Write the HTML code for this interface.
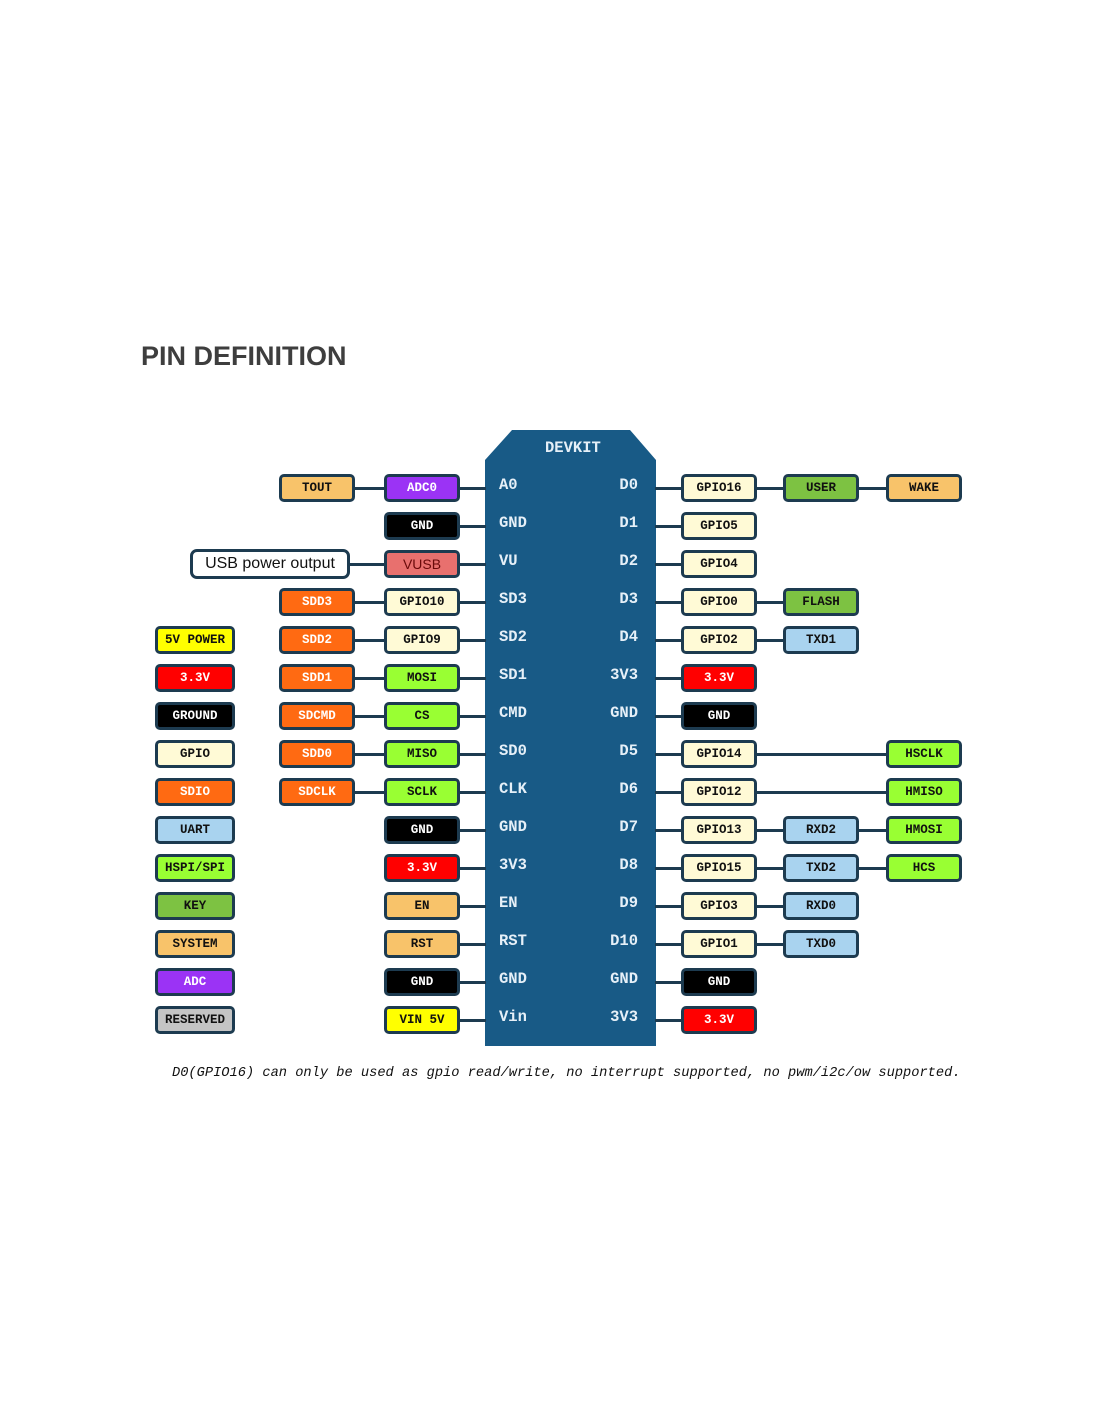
<!DOCTYPE html><html><head><meta charset="utf-8"><style>
body{margin:0;width:1100px;height:1422px;background:#fff;position:relative;overflow:hidden;font-family:"Liberation Mono",monospace}
.b{position:absolute;width:70px;height:22px;border:3px solid #1d3b50;border-radius:5px;display:flex;align-items:center;justify-content:center;font-weight:bold;font-size:12.5px;color:#111;box-sizing:content-box}
.l{position:absolute;height:3px;background:#1d3b50}
.p{position:absolute;color:#e6f0f8;font-weight:bold;font-size:15.5px;line-height:18px}
</style></head><body>
<div style="position:absolute;left:141px;top:341px;font:bold 27px 'Liberation Sans',sans-serif;color:#3e3e3e">PIN DEFINITION</div>
<svg style="position:absolute;left:0;top:0" width="1100" height="1422"><polygon points="485,460 512,430 630,430 656,460 656,1046 485,1046" fill="#185a86"/></svg>
<div class="p" style="left:545px;top:439px">DEVKIT</div>
<div style="position:absolute;left:172px;top:1066px;font-style:italic;font-size:13.7px;color:#111">D0(GPIO16) can only be used as gpio read/write, no interrupt supported, no pwm/i2c/ow supported.</div>
<div id="c"></div>
<script>
const C={to:['#f8c36a','#111'],ad:['#9b33f5','#fff'],k:['#000','#fff'],vu:['#e8706e','#7a0b0b'],o:['#ff6a12','#fff'],g:['#fffad6','#111'],lg:['#99ff33','#111'],dg:['#7dc242','#111'],r:['#ff0000','#fff'],bl:['#a9d3ef','#111'],y:['#ffff00','#111'],gr:['#c4c4c4','#111'],w:['#fff','#111']};
const X={L:155,A:279,B:384,C:681,D:783,E:886};
const rows=[
[null,['TOUT','to'],['ADC0','ad'],'A0','D0',['GPIO16','g'],['USER','dg'],['WAKE','to']],
[null,null,['GND','k'],'GND','D1',['GPIO5','g'],null,null],
[null,'USB',['VUSB','vu'],'VU','D2',['GPIO4','g'],null,null],
[null,['SDD3','o'],['GPIO10','g'],'SD3','D3',['GPIO0','g'],['FLASH','dg'],null],
[['5V POWER','y'],['SDD2','o'],['GPIO9','g'],'SD2','D4',['GPIO2','g'],['TXD1','bl'],null],
[['3.3V','r'],['SDD1','o'],['MOSI','lg'],'SD1','3V3',['3.3V','r'],null,null],
[['GROUND','k'],['SDCMD','o'],['CS','lg'],'CMD','GND',['GND','k'],null,null],
[['GPIO','g'],['SDD0','o'],['MISO','lg'],'SD0','D5',['GPIO14','g'],null,['HSCLK','lg']],
[['SDIO','o'],['SDCLK','o'],['SCLK','lg'],'CLK','D6',['GPIO12','g'],null,['HMISO','lg']],
[['UART','bl'],null,['GND','k'],'GND','D7',['GPIO13','g'],['RXD2','bl'],['HMOSI','lg']],
[['HSPI/SPI','lg'],null,['3.3V','r'],'3V3','D8',['GPIO15','g'],['TXD2','bl'],['HCS','lg']],
[['KEY','dg'],null,['EN','to'],'EN','D9',['GPIO3','g'],['RXD0','bl'],null],
[['SYSTEM','to'],null,['RST','to'],'RST','D10',['GPIO1','g'],['TXD0','bl'],null],
[['ADC','ad'],null,['GND','k'],'GND','GND',['GND','k'],null,null],
[['RESERVED','gr'],null,['VIN 5V','y'],'Vin','3V3',['3.3V','r'],null,null]];
let h='';
function box(x,y,t,c,w){const k=C[c];h+=`<div class="b" style="left:${x}px;top:${y-14}px;${w?'width:'+w+'px;':''}background:${k[0]};color:${k[1]}">${t}</div>`}
function ln(x1,x2,y){h+=`<div class="l" style="left:${x1}px;width:${x2-x1}px;top:${y-1}px"></div>`}
rows.forEach((r,i)=>{const y=488+38*i;
 if(r[0])box(X.L,y,r[0][0],r[0][1],74);
 if(r[1]==='USB'){h+=`<div class="b" style="left:190px;top:${y-15}px;width:154px;height:24px;background:#fff;font:16px 'Liberation Sans',sans-serif;border-radius:7px">USB power output</div>`;ln(350,384,y);}
 else if(r[1]){box(X.A,y,r[1][0],r[1][1]);ln(355,384,y);}
 if(r[2][0]==='VUSB'){h+=`<div class="b" style="left:384px;top:${y-14}px;background:#e8706e;color:#6a0a0a;font:14px 'Liberation Sans',sans-serif">VUSB</div>`;}
 else box(X.B,y,r[2][0],r[2][1]);
 ln(460,486,y);
 h+=`<div class="p" style="left:499px;top:${y-12}px">${r[3]}</div><div class="p" style="left:580px;width:58px;text-align:right;top:${y-12}px">${r[4]}</div>`;
 ln(655,681,y);box(X.C,y,r[5][0],r[5][1]);
 if(r[6]){ln(757,783,y);box(X.D,y,r[6][0],r[6][1]);}
 if(r[7]){ln(r[6]?859:757,886,y);box(X.E,y,r[7][0],r[7][1]);}
});
document.getElementById('c').innerHTML=h;
</script></body></html>
